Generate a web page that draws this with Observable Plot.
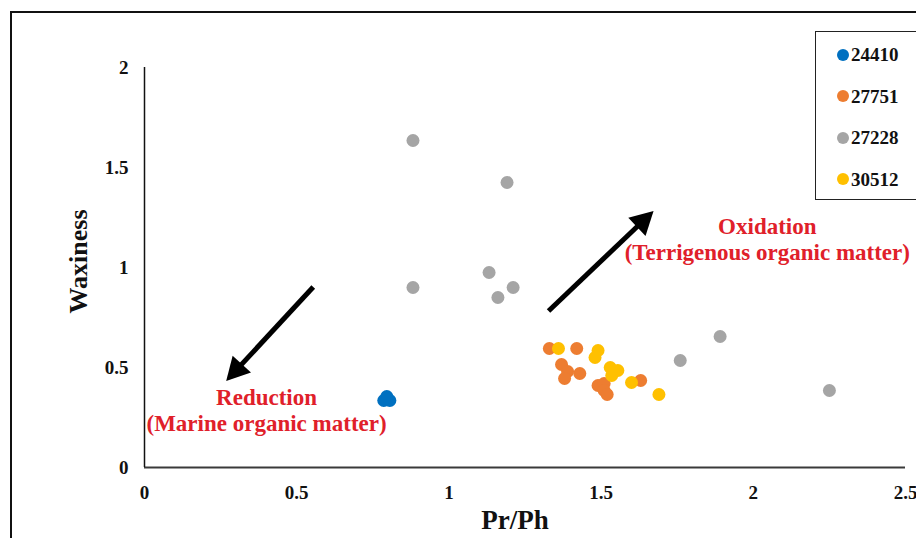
<!DOCTYPE html>
<html>
<head>
<meta charset="utf-8">
<script src="https://cdn.jsdelivr.net/npm/d3@7"></script>
<script src="https://cdn.jsdelivr.net/npm/@observablehq/plot@0.6"></script>
<style>
  body { margin: 0; background: #fff; overflow: hidden; }
  #wrap { position: relative; width: 916px; height: 538px; overflow: hidden;
          font-family: "Liberation Serif", "Times New Roman", serif; font-weight: bold; }
  #border { position: absolute; left: 10px; top: 11px; width: 1000px; height: 1000px; border: 2.5px solid #111; }
  #chart { position: absolute; left: 0; top: 0; }
  #legend { position: absolute; left: 815px; top: 31px; width: 130px; height: 167px;
            border: 1.5px solid #222; background: #fff; }
  .item { position: absolute; left: 0; display: flex; align-items: center; font-size: 19px; color: #111; line-height: 1; }
  .sw { width: 12px; height: 12px; border-radius: 50%; margin-left: 21px; margin-right: 2px; }
</style>
</head>
<body>
<div id="wrap">
  <div id="border"></div>
  <div id="chart"></div>
  <div id="legend"></div>
</div>
<script>
// Well series and colours
const series = ["24410", "27751", "27228", "30512"];
const colors = ["#0070C0", "#ED7D31", "#A5A5A5", "#FFC000"];

// Pr/Ph (x) and Waxiness (y) for each well
const prph24410 = [0.786, 0.806, 0.796];
const wax24410  = [0.335, 0.335, 0.355];

const prph27751 = [1.33, 1.42, 1.37, 1.39, 1.38, 1.43, 1.49, 1.51, 1.51, 1.52, 1.63];
const wax27751  = [0.595, 0.595, 0.515, 0.48, 0.445, 0.47, 0.41, 0.42, 0.385, 0.365, 0.435];

const prph27228 = [0.882, 1.191, 1.132, 0.882, 1.211, 1.161, 1.891, 1.76, 2.25];
const wax27228  = [1.635, 1.425, 0.975, 0.90, 0.90, 0.85, 0.655, 0.535, 0.385];

const prph30512 = [1.36, 1.49, 1.48, 1.53, 1.555, 1.535, 1.60, 1.69];
const wax30512  = [0.595, 0.585, 0.55, 0.50, 0.485, 0.46, 0.425, 0.365];

// Axis ticks
const xTicks = [0, 0.5, 1, 1.5, 2, 2.5];
const yTicks = [0, 0.5, 1, 1.5, 2];

// Interpretive arrows (tail -> tip, data units)
const arrowX1 = [0.556, 1.329];
const arrowY1 = [0.90, 0.78];
const arrowX2 = [0.27, 1.674];
const arrowY2 = [0.43, 1.28];

// Annotation labels
const noteText = ["Reduction\n(Marine organic matter)", "Oxidation\n(Terrigenous organic matter)"];
const noteX = [0.401, 2.046];
const noteY = [0.29, 1.145];

const xs = [prph24410, prph27751, prph27228, prph30512];
const ys = [wax24410, wax27751, wax27228, wax30512];
const points = series.flatMap((s, i) => xs[i].map((x, j) => ({series: s, x, y: ys[i][j]})));
const notes = noteText.map((text, i) => ({text, x: noteX[i], y: noteY[i]}));

const serif = "'Liberation Serif', 'Times New Roman', serif";

const plot = Plot.plot({
  width: 916,
  height: 538,
  marginLeft: 144,
  marginRight: 11,
  marginTop: 67,
  marginBottom: 71,
  style: {fontFamily: serif, fontWeight: "bold", fontSize: "19px", color: "#111", background: "transparent"},
  x: {domain: [0, 2.5], ticks: xTicks, tickFormat: d => String(d), tickSize: 0, tickPadding: 18, label: null},
  y: {domain: [0, 2], ticks: yTicks, tickFormat: d => String(d), tickSize: 0, tickPadding: 16, label: null},
  color: {domain: series, range: colors},
  marks: [
    Plot.ruleY([0], {stroke: "#3a3a3a", strokeWidth: 2}),
    Plot.ruleX([0], {stroke: "#111", strokeWidth: 1.5}),
    Plot.dot(points, {x: "x", y: "y", fill: "series", r: 6.5}),
    Plot.text(notes, {x: "x", y: "y", text: "text", fill: "#e0202a", fontSize: 23, lineHeight: 1.15, fontWeight: "bold"}),
    Plot.text(["Waxiness"], {text: d => d, frameAnchor: "left", textAnchor: "middle", dx: -66, dy: -6, rotate: -90, fontSize: 26, fill: "#111"}),
    Plot.text(["Pr/Ph"], {text: d => d, frameAnchor: "bottom", dx: -10, dy: 61, fontSize: 27, fill: "#111"})
  ]
});
document.getElementById("chart").appendChild(plot);

// Filled-head arrows drawn through the plot's own scales
const sxs = plot.scale("x"), sys = plot.scale("y");
const fx = d3.scaleLinear(sxs.domain, sxs.range);
const fy = d3.scaleLinear(sys.domain, sys.range);
const g = d3.select(plot).append("g").attr("fill", "#000").attr("stroke", "#000");
arrowX1.forEach((_, i) => {
  const sx = fx(arrowX1[i]), sy = fy(arrowY1[i]);
  const tx = fx(arrowX2[i]), ty = fy(arrowY2[i]);
  const len = Math.hypot(tx - sx, ty - sy);
  const ux = (tx - sx) / len, uy = (ty - sy) / len;
  const L = 23, W = 12.5;
  const bx = tx - ux * L, by = ty - uy * L;
  g.append("line")
    .attr("x1", sx).attr("y1", sy)
    .attr("x2", bx + ux * 2).attr("y2", by + uy * 2)
    .attr("stroke-width", 5);
  g.append("path")
    .attr("stroke", "none")
    .attr("d", `M${tx},${ty}L${bx - uy * W},${by + ux * W}L${bx + uy * W},${by - ux * W}Z`);
});

// Legend box
const legend = document.getElementById("legend");
series.forEach((s, i) => {
  const item = document.createElement("div");
  item.className = "item";
  item.style.top = (13 + i * 41.5) + "px";
  const sw = document.createElement("span");
  sw.className = "sw";
  sw.style.background = colors[i];
  const label = document.createElement("span");
  label.textContent = s;
  item.append(sw, label);
  legend.appendChild(item);
});
</script>
</body>
</html>
